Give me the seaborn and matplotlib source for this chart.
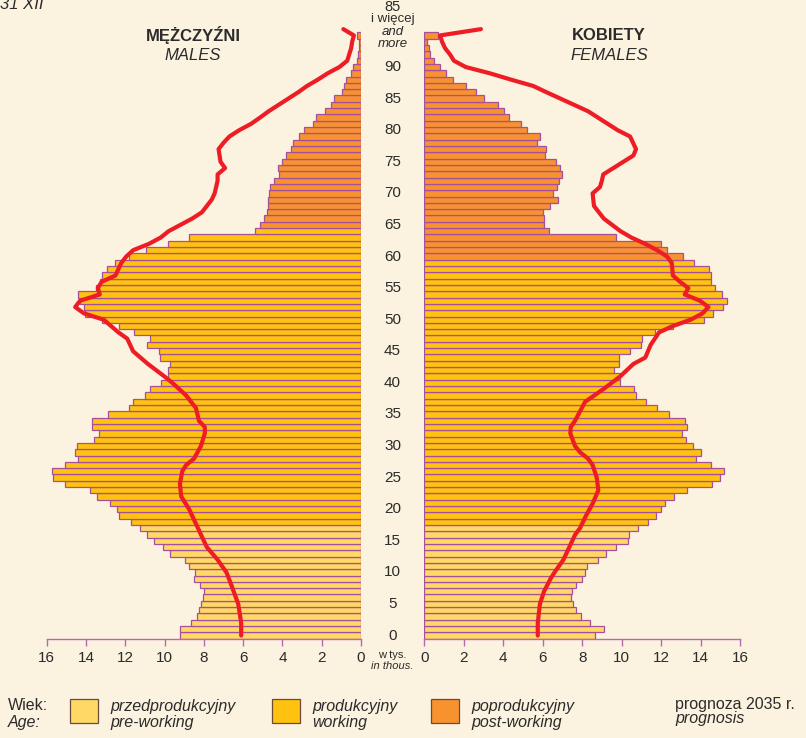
import numpy as np
import pandas as pd
import matplotlib
matplotlib.use("Agg")
import matplotlib.pyplot as plt
import matplotlib.transforms as mtransforms
from matplotlib.patches import Rectangle
import seaborn as sns

# ---- data (thousands of persons, single years of age, last row = 95+)
ages = list(range(96))

males = [9.20, 9.20, 8.64, 8.34, 8.23, 8.13, 8.03, 7.98, 8.18, 8.49,
         8.44, 8.74, 8.95, 9.71, 10.07, 10.54, 10.88, 11.24, 11.70, 12.31,
         12.41, 12.77, 13.43, 13.79, 15.06, 15.67, 15.72, 15.06, 14.40, 14.58,
         14.46, 13.58, 13.36, 13.68, 13.68, 12.89, 11.83, 11.60, 10.98, 10.73,
         10.17, 9.81, 9.85, 9.71, 10.22, 10.27, 10.88, 10.73, 11.54, 12.34,
         13.16, 14.04, 14.09, 14.31, 14.43, 13.50, 13.30, 13.16, 12.95, 12.53,
         11.80, 10.97, 9.81, 8.74, 5.40, 5.14, 4.94, 4.79, 4.72, 4.75,
         4.70, 4.62, 4.45, 4.19, 4.24, 4.02, 3.80, 3.55, 3.48, 3.17,
         2.89, 2.44, 2.29, 1.82, 1.53, 1.36, 0.97, 0.88, 0.75, 0.50,
         0.41, 0.20, 0.14, 0.12, 0.08, 0.19]

females = [8.65, 9.12, 8.41, 7.92, 7.69, 7.53, 7.42, 7.50, 7.69, 7.97,
           8.16, 8.26, 8.82, 9.21, 9.71, 10.30, 10.39, 10.81, 11.32, 11.76,
           12.01, 12.21, 12.67, 13.33, 14.56, 15.00, 15.19, 14.53, 13.77, 14.02,
           13.63, 13.24, 13.07, 13.33, 13.23, 12.42, 11.81, 11.22, 10.74, 10.64,
           9.92, 9.90, 9.59, 9.88, 9.88, 10.42, 10.96, 11.01, 11.69, 12.58,
           14.17, 14.65, 15.15, 15.35, 15.10, 14.75, 14.54, 14.54, 14.44, 13.68,
           13.13, 12.28, 12.00, 9.71, 6.34, 6.08, 6.07, 6.00, 6.37, 6.79,
           6.54, 6.74, 6.84, 6.98, 6.88, 6.66, 6.12, 6.15, 5.73, 5.86,
           5.22, 4.90, 4.31, 4.06, 3.72, 3.04, 2.61, 2.10, 1.47, 1.10,
           0.80, 0.51, 0.29, 0.25, 0.15, 0.71]

# comparison line (red)
male_line_age = [0, 2, 5, 8, 10, 12, 14, 16, 18, 20, 22, 24, 26, 27, 28, 30, 32, 33, 34, 36,
                 38, 40, 41, 43, 45, 47, 48, 50, 51, 52, 53, 54, 55, 56, 57, 59, 60, 61, 62, 63,
                 64, 65, 66, 67, 69, 70, 72, 73, 74, 75, 77, 78, 79, 80, 81, 82, 83, 84, 85, 86,
                 87, 88, 89, 90, 91, 92, 93, 94, 95, 96]
male_line = [6.10, 6.10, 6.25, 6.60, 6.85, 7.30, 7.85, 8.15, 8.45, 8.75, 9.15, 9.22, 9.10, 8.90, 8.50, 8.15, 7.95, 7.95, 8.25, 8.40,
             8.90, 9.60, 10.00, 10.85, 11.60, 11.90, 12.35, 13.10, 14.10, 14.55, 14.30, 13.30, 13.40, 13.20, 12.50, 12.20, 11.95, 11.60, 10.80, 10.20,
             9.80, 9.20, 8.60, 8.10, 7.60, 7.45, 7.30, 7.30, 6.92, 7.15, 7.25, 7.00, 6.70, 6.20, 5.60, 5.14, 4.70, 4.20, 3.70, 3.20,
             2.75, 2.20, 1.70, 1.10, 0.70, 0.60, 0.50, 0.45, 0.36, 0.90]

female_line_age = [0, 2, 5, 7, 9, 10, 12, 14, 16, 17, 19, 21, 23, 25, 27, 28, 29, 30, 32, 33,
                   34, 36, 37, 39, 41, 43, 44, 46, 48, 49, 50, 51, 52, 53, 54, 55, 56, 57, 59, 60,
                   61, 62, 63, 64, 66, 68, 70, 71, 72, 73, 74, 76, 77, 79, 80, 81, 83, 84, 85, 86,
                   87, 88, 89, 90, 91, 92, 93, 94, 95, 96]
female_line = [5.75, 5.75, 5.86, 6.07, 6.40, 6.60, 7.05, 7.35, 7.65, 7.89, 8.20, 8.55, 8.82, 8.74, 8.53, 8.30, 7.90, 7.64, 7.40, 7.42,
               7.64, 7.98, 8.15, 9.07, 9.92, 10.60, 11.20, 11.47, 11.90, 12.60, 13.50, 14.10, 14.40, 13.97, 13.20, 13.38, 12.96, 12.60, 12.54, 12.30,
               11.80, 11.20, 10.50, 9.95, 9.10, 8.60, 8.53, 8.90, 9.00, 9.07, 9.58, 10.60, 10.73, 10.43, 9.80, 9.30, 8.30, 7.60, 6.90, 6.20,
               5.52, 4.40, 3.33, 2.10, 1.50, 1.30, 1.05, 0.90, 0.80, 2.87]

age_labels = list(range(0, 95, 5))
x_ticks = list(range(0, 17, 2))

group_names = ["pre", "work", "post"]
colors = {"pre": "#FFD865", "work": "#FFC20E", "post": "#F7922F"}
edge = "#A5509C"
red = "#EE1C25"
bg = "#FBF3DF"
txt = "#2b2b2b"


def group_of(age, retire):
    if age < 18:
        return "pre"
    if age < retire:
        return "work"
    return "post"


df_m = pd.DataFrame({"age": ages, "value": males,
                     "group": [group_of(a, 65) for a in ages]})
df_f = pd.DataFrame({"age": ages, "value": females,
                     "group": [group_of(a, 60) for a in ages]})

sns.set_style("white")
plt.rcParams["font.family"] = ["Liberation Sans", "DejaVu Sans"]

W, H = 806, 738
fig = plt.figure(figsize=(W / 100, H / 100), dpi=100, facecolor=bg)

y_bot, y_top = 638.7, 0.7


def axes_px(x0, x1):
    return [x0 / W, 1 - y_bot / H, (x1 - x0) / W, (y_bot - y_top) / H]


ax_m = fig.add_axes(axes_px(46.7, 361.0))
ax_f = fig.add_axes(axes_px(424.3, 740.0))

for ax, df, line_age, line_val, xlim in [
        (ax_m, df_m, male_line_age, male_line, (16, 0)),
        (ax_f, df_f, female_line_age, female_line, (0, 16))]:
    ax.set_facecolor(bg)
    sns.barplot(data=df, x="value", y="age", hue="group", hue_order=group_names,
                palette=colors, saturation=1, orient="h", native_scale=True,
                dodge=False, width=1.0, errorbar=None, edgecolor=edge,
                linewidth=0.9, legend=False, ax=ax)
    sns.lineplot(x=line_val, y=line_age, sort=False, estimator=None,
                 color=red, linewidth=3.0, ax=ax, zorder=5)
    ax.set_xlim(*xlim)
    ax.set_ylim(-0.5, 100.5)
    ax.set_xticks(x_ticks)
    ax.set_xticklabels([str(t) for t in x_ticks], fontsize=11, color=txt)
    ax.set_yticks([])
    ax.set_xlabel("")
    ax.set_ylabel("")
    for s in ["top", "left", "right"]:
        ax.spines[s].set_visible(False)
    ax.spines["bottom"].set_color("#B56AAE")
    ax.spines["bottom"].set_linewidth(1.0)
    ax.tick_params(axis="x", direction="out", length=5, width=1.0,
                   color="#B56AAE", pad=4, bottom=True)

# age labels in the centre column
trans = mtransforms.blended_transform_factory(fig.transFigure, ax_m.transData)
cx = 392.6 / W
for a in age_labels:
    ax_m.text(cx, a, str(a), transform=trans, ha="center", va="center",
              fontsize=11, color=txt, clip_on=False)


def ftext(x, y, s, **kw):
    fig.text(x / W, 1 - y / H, s, color=txt, **kw)


ftext(392.6, 7, "85", ha="center", va="center", fontsize=10.5)
ftext(392.6, 19, "i więcej", ha="center", va="center", fontsize=9.5)
ftext(392.6, 32, "and", ha="center", va="center", fontsize=9.5, style="italic")
ftext(392.6, 44, "more", ha="center", va="center", fontsize=9.5, style="italic")
ftext(392.6, 655, "w tys.", ha="center", va="center", fontsize=8)
ftext(392.6, 666, "in thous.", ha="center", va="center", fontsize=8, style="italic")

ftext(43, 9, "31 XII", ha="right", va="baseline", fontsize=12, style="italic")

ftext(193, 35, "MĘŻCZYŹNI", ha="center", va="center", fontsize=12, fontweight="bold")
ftext(193, 55, "MALES", ha="center", va="center", fontsize=12, style="italic")
ftext(609, 35, "KOBIETY", ha="center", va="center", fontsize=12, fontweight="bold")
ftext(609, 55, "FEMALES", ha="center", va="center", fontsize=12, style="italic")

# legend
ftext(8, 706, "Wiek:", ha="left", va="center", fontsize=11.5)
ftext(8, 723, "Age:", ha="left", va="center", fontsize=11.5, style="italic")
legend_items = [(70, "pre", "przedprodukcyjny", "pre-working"),
                (272, "work", "produkcyjny", "working"),
                (431, "post", "poprodukcyjny", "post-working")]
for x0, key, pl, en in legend_items:
    fig.patches.append(Rectangle((x0 / W, 1 - 723 / H), 28 / W, 24 / H,
                                 transform=fig.transFigure, facecolor=colors[key],
                                 edgecolor="#6b4a3a", linewidth=0.9))
    ftext(x0 + 40, 706, pl, ha="left", va="center", fontsize=11.5, style="italic")
    ftext(x0 + 40, 723, en, ha="left", va="center", fontsize=11.5, style="italic")

ftext(675, 705, "prognoza 2035 r.", ha="left", va="center", fontsize=11.5)
ftext(675, 719, "prognosis", ha="left", va="center", fontsize=11.5, style="italic")

fig.savefig("out.png", dpi=100, facecolor=bg)
